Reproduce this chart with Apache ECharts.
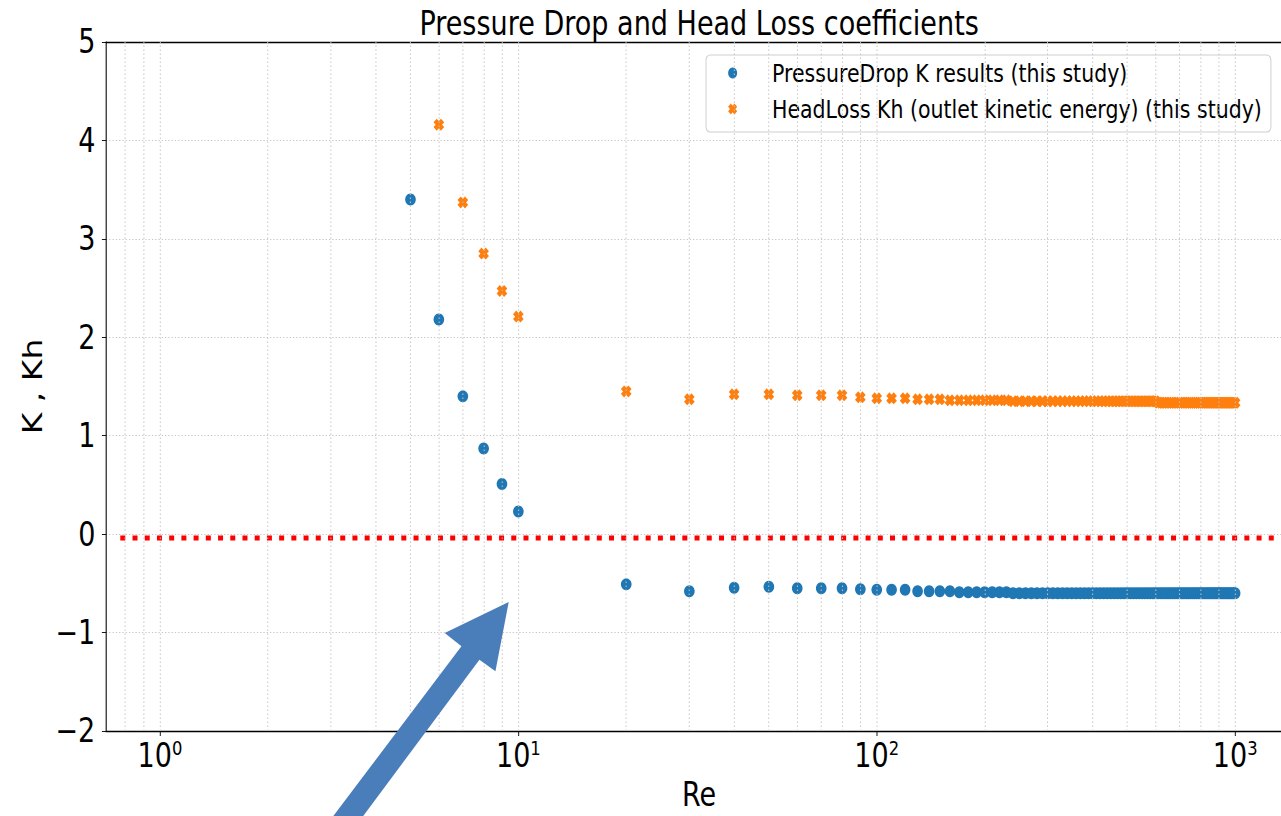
<!DOCTYPE html>
<html>
<head>
<meta charset="utf-8">
<script src="https://cdn.jsdelivr.net/npm/echarts@6/dist/echarts.min.js"></script>
<style>
html,body{margin:0;padding:0;background:#fff;overflow:hidden;width:1281px;height:816px;position:relative;}
#chart{position:absolute;left:0;top:0;height:816px;transform-origin:0 0;}
</style>
</head>
<body>
<div id="chart"></div>
<script>
// ---------------- data ----------------
const titleText = 'Pressure Drop and Head Loss coefficients';
const seriesNames = ['PressureDrop K results (this study)', 'HeadLoss Kh (outlet kinetic energy) (this study)'];
const xAxisName = 'Re';
const yAxisName = 'K , Kh';

const reValues = [
  5, 6, 7, 8, 9, 10, 20, 30, 40, 50, 60, 70, 80, 90,
  100, 110, 120, 130, 140, 150, 160, 170, 180, 190,
  200, 210, 220, 230, 240, 250, 260, 270, 280, 290,
  300, 310, 320, 330, 340, 350, 360, 370, 380, 390,
  400, 410, 420, 430, 440, 450, 460, 470, 480, 490,
  500, 510, 520, 530, 540, 550, 560, 570, 580, 590,
  600, 610, 620, 630, 640, 650, 660, 670, 680, 690,
  700, 710, 720, 730, 740, 750, 760, 770, 780, 790,
  800, 810, 820, 830, 840, 850, 860, 870, 880, 890,
  900, 910, 920, 930, 940, 950, 960, 970, 980, 990,
  1000
];

const kValues = [
  3.40, 2.18, 1.40, 0.87, 0.51, 0.23, -0.51, -0.58, -0.545, -0.535, -0.55, -0.55, -0.55, -0.56,
  -0.565, -0.565, -0.565, -0.58, -0.58, -0.58, -0.58, -0.59, -0.59, -0.59,
  -0.59, -0.59, -0.59, -0.59, -0.60, -0.60, -0.60, -0.60, -0.60, -0.60,
  -0.60, -0.60, -0.60, -0.60, -0.60, -0.60, -0.60, -0.60, -0.60, -0.60,
  -0.60, -0.60, -0.60, -0.60, -0.60, -0.60, -0.60, -0.60, -0.60, -0.60,
  -0.60, -0.60, -0.60, -0.60, -0.60, -0.60, -0.60, -0.60, -0.60, -0.60,
  -0.60, -0.60, -0.60, -0.60, -0.60, -0.60, -0.60, -0.60, -0.60, -0.60,
  -0.60, -0.60, -0.60, -0.60, -0.60, -0.60, -0.60, -0.60, -0.60, -0.60,
  -0.60, -0.60, -0.60, -0.60, -0.60, -0.60, -0.60, -0.60, -0.60, -0.60,
  -0.60, -0.60, -0.60, -0.60, -0.60, -0.60, -0.60, -0.60, -0.60, -0.60,
  -0.60
];

const khValues = [
  null, 4.16, 3.37, 2.85, 2.47, 2.21, 1.45, 1.37, 1.42, 1.42, 1.41, 1.41, 1.41, 1.39,
  1.38, 1.38, 1.38, 1.37, 1.37, 1.37, 1.36, 1.36, 1.36, 1.36,
  1.36, 1.36, 1.36, 1.36, 1.35, 1.35, 1.35, 1.35, 1.35, 1.35,
  1.35, 1.35, 1.35, 1.35, 1.35, 1.35, 1.35, 1.35, 1.35, 1.35,
  1.35, 1.35, 1.35, 1.35, 1.35, 1.35, 1.35, 1.35, 1.35, 1.35,
  1.35, 1.35, 1.35, 1.35, 1.35, 1.35, 1.35, 1.35, 1.35, 1.35,
  1.35, 1.335, 1.335, 1.335, 1.335, 1.335, 1.335, 1.335, 1.335, 1.335,
  1.335, 1.335, 1.335, 1.335, 1.335, 1.335, 1.335, 1.335, 1.335, 1.335,
  1.335, 1.335, 1.335, 1.335, 1.335, 1.335, 1.335, 1.335, 1.335, 1.335,
  1.335, 1.335, 1.335, 1.335, 1.335, 1.335, 1.335, 1.335, 1.335, 1.335,
  1.335
];

// zero reference line (red dotted)
const refLineRe = [0.775, 1441];
const refLineK = [-0.04, -0.04];

// axis ranges / ticks
const xRange = [0.707, 1441];
const yRange = [-2, 5];
const yTickStep = 1;
const majorGridRe = [1, 10, 100, 1000];
const minorGridRe = [0.8, 0.9, 2, 3, 4, 5, 6, 7, 8, 9, 20, 30, 40, 50, 60, 70, 80, 90,
                     200, 300, 400, 500, 600, 700, 800, 900];

// arrow annotation tip (data coords)
const arrowTip = [9.4, -0.69];

// ---------------- layout ----------------
const S = 0.82;                 // horizontal compression of the reference picture
const W = 1340 / S;             // drawing surface is wider than the window; the page clips it
const dom = document.getElementById('chart');
dom.style.width = W + 'px';
dom.style.transform = 'scaleX(' + S + ')';

const FONT = 'DejaVu Sans';
const X_PATH = 'path://M0,3L3,0L5,2L7,0L10,3L8,5L10,7L7,10L5,8L3,10L0,7L2,5Z';
const gridStyle = { color: '#c4c4c4', width: 1.2, type: [1.5, 2.5] };
const frameLine = { color: '#000', width: 1.3 };

const chart = echarts.init(dom, null, { renderer: 'svg', width: W, height: 816 });

const kData = reValues.map((r, i) => [r, kValues[i]]);
const khData = reValues.map((r, i) => [r, khValues[i]]).filter(d => d[1] !== null);
const refData = refLineRe.map((r, i) => [r, refLineK[i]]);

const option = {
  animation: false,
  backgroundColor: '#fff',
  title: {
    text: titleText,
    left: 695 / S,
    textAlign: 'center',
    top: 2,
    textStyle: { fontFamily: FONT, fontSize: 33, fontWeight: 'normal', color: '#000' }
  },
  legend: {
    orient: 'vertical',
    left: 706 / S,
    top: 55,
    padding: [3, 11, 8, 27],
    itemWidth: 12,
    itemHeight: 11,
    itemGap: 6,
    backgroundColor: 'rgba(255,255,255,0.92)',
    borderColor: '#d0d0d0',
    borderWidth: 1.2,
    borderRadius: 5,
    data: [
      { name: seriesNames[0], icon: 'circle' },
      { name: seriesNames[1], icon: X_PATH }
    ],
    formatter: name => '{g|}' + name,
    textStyle: {
      fontFamily: FONT, fontSize: 25, lineHeight: 30, color: '#000',
      rich: { g: { width: 37 } }
    }
  },
  grid: {
    left: 106 / S,
    top: 42,
    width: (1292 - 106) / S,
    height: 731 - 42,
    show: false,
    containLabel: false,
    outerBoundsMode: 'none'
  },
  xAxis: [{
    type: 'log',
    logBase: 10,
    min: xRange[0],
    max: xRange[1],
    name: xAxisName,
    nameLocation: 'middle',
    nameGap: 47,
    nameTextStyle: { fontFamily: FONT, fontSize: 33, color: '#000' },
    axisLine: { show: true, onZero: false, lineStyle: frameLine },
    axisTick: { show: true, length: 5, lineStyle: { color: '#000' } },
    splitLine: { show: false },
    axisLabel: {
      showMinLabel: false,
      showMaxLabel: false,
      margin: 7,
      formatter: function (v) {
        const e = Math.log10(v);
        if (Math.abs(e - Math.round(e)) > 1e-6) return '';
        return '{b|10}{s|' + Math.round(e) + '}';
      },
      rich: {
        b: { fontFamily: FONT, fontSize: 33, lineHeight: 36, color: '#000' },
        s: { fontFamily: FONT, fontSize: 20, lineHeight: 20, color: '#000', verticalAlign: 'top' }
      }
    }
  }, {
    type: 'log',
    logBase: 10,
    position: 'top',
    min: xRange[0],
    max: xRange[1],
    axisLine: { show: true, onZero: false, lineStyle: frameLine },
    axisTick: { show: false },
    axisLabel: { show: false },
    splitLine: { show: false }
  }],
  yAxis: {
    type: 'value',
    min: yRange[0],
    max: yRange[1],
    interval: yTickStep,
    name: yAxisName,
    nameLocation: 'middle',
    nameGap: 72,
    nameTextStyle: { fontFamily: FONT, fontSize: 33, color: '#000' },
    axisLine: { show: true, onZero: false, lineStyle: frameLine },
    axisTick: { show: true, length: 5, lineStyle: { color: '#000' } },
    splitLine: { show: true, lineStyle: gridStyle },
    axisLabel: {
      margin: 13,
      fontFamily: FONT, fontSize: 33, color: '#000',
      formatter: v => (v < 0 ? '\u2212' + (-v) : String(v))
    }
  },
  series: [
    {
      name: 'x-grid',
      type: 'line',
      data: [[1, 0]],
      symbol: 'none',
      lineStyle: { opacity: 0 },
      z: 0,
      silent: true,
      markLine: {
        silent: true,
        symbol: ['none', 'none'],
        label: { show: false },
        lineStyle: gridStyle,
        data: majorGridRe.concat(minorGridRe).map(v => ({ xAxis: v }))
      }
    },
    {
      name: 'zero-ref',
      type: 'line',
      data: refData,
      symbol: 'none',
      silent: true,
      z: 1,
      lineStyle: { color: '#ff0000', width: 5, type: [6.1, 8.8], cap: 'butt' }
    },
    {
      name: seriesNames[0],
      type: 'scatter',
      data: kData,
      symbol: 'circle',
      symbolSize: [13, 12],
      itemStyle: { color: '#1f77b4', opacity: 1 },
      z: 3
    },
    {
      name: seriesNames[1],
      type: 'scatter',
      data: khData,
      symbol: X_PATH,
      symbolSize: [13, 12],
      itemStyle: { color: '#ff7f0e', opacity: 1 },
      z: 3
    }
  ]
};

chart.setOption(option);

// arrow annotation anchored at its tip in data coordinates
const tip = chart.convertToPixel({ xAxisIndex: 0, yAxisIndex: 0 }, arrowTip);
const arrowOffsets = [
  [0, 0], [-13.3, 69.3], [-29.3, 57.6], [-150, 220], [-180, 220], [-47.3, 44.3], [-64, 31]
];
chart.setOption({
  graphic: [{
    type: 'polygon',
    z: 100,
    silent: true,
    shape: { points: arrowOffsets.map(o => [tip[0] + o[0] / S, tip[1] + o[1]]) },
    style: { fill: '#4a7ebb' }
  }]
});
</script>
</body>
</html>
